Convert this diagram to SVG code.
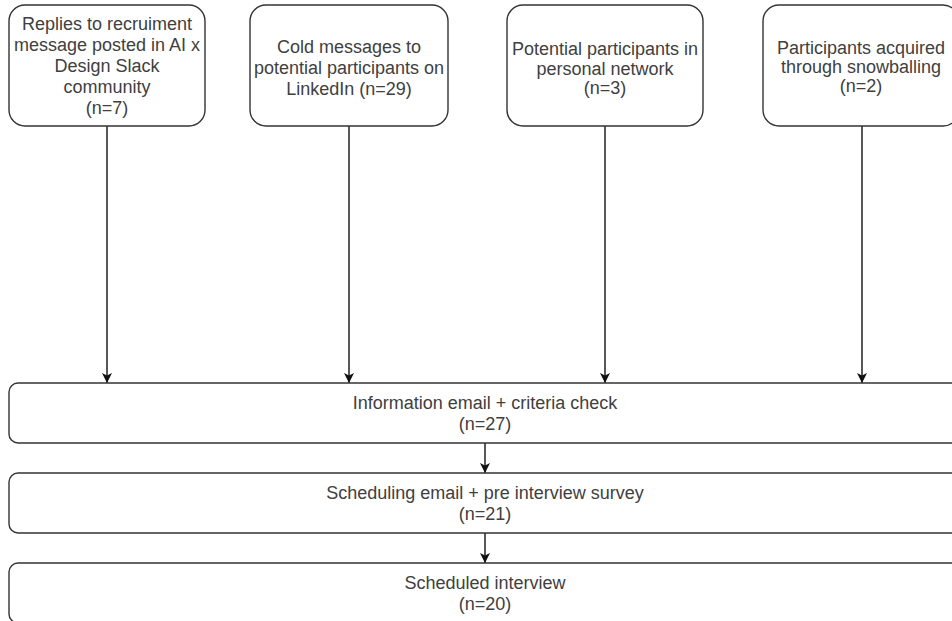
<svg xmlns="http://www.w3.org/2000/svg" width="952" height="621" viewBox="0 0 952 621">
<defs>
<marker id="ah" viewBox="0 0 10 10" refX="10" refY="5" markerWidth="10" markerHeight="10" markerUnits="userSpaceOnUse" orient="auto">
<path d="M0,0 L10,5 L0,10 L2.5,5 Z" fill="#111"/>
</marker>
<style>
.box{fill:#fff;stroke:#333;stroke-width:1.4}
.t{font-family:"Liberation Sans",Arial,sans-serif;font-size:18px;fill:#404040;text-anchor:middle}
.c{stroke:#111;stroke-width:1.4;fill:none}
</style>
</defs>
<rect width="952" height="621" fill="#fff"/>
<g id="connectors">
<path class="c" d="M107,126 V383" marker-end="url(#ah)"/>
<path class="c" d="M349,126 V383" marker-end="url(#ah)"/>
<path class="c" d="M605,126 V383" marker-end="url(#ah)"/>
<path class="c" d="M862,126 V383" marker-end="url(#ah)"/>
<path class="c" d="M485,443 V473" marker-end="url(#ah)"/>
<path class="c" d="M485,533 V563" marker-end="url(#ah)"/>
</g>
<g id="n1">
<rect class="box" x="9" y="5" width="196" height="121" rx="16"/>
<text class="t"><tspan x="107" y="30">Replies to recruiment</tspan><tspan x="107" y="51">message posted in AI x</tspan><tspan x="107" y="72">Design Slack</tspan><tspan x="107" y="93">community</tspan><tspan x="107" y="114">(n=7)</tspan></text>
</g>
<g id="n2">
<rect class="box" x="250" y="5" width="198" height="121" rx="16"/>
<text class="t"><tspan x="349" y="53">Cold messages to</tspan><tspan x="349" y="74">potential participants on</tspan><tspan x="349" y="95">LinkedIn (n=29)</tspan></text>
</g>
<g id="n3">
<rect class="box" x="507" y="5" width="196" height="121" rx="16"/>
<text class="t"><tspan x="605" y="55">Potential participants in</tspan><tspan x="605" y="75">personal network</tspan><tspan x="605" y="94">(n=3)</tspan></text>
</g>
<g id="n4">
<rect class="box" x="763" y="5" width="196" height="121" rx="16"/>
<text class="t"><tspan x="861" y="54">Participants acquired</tspan><tspan x="861" y="73">through snowballing</tspan><tspan x="861" y="92">(n=2)</tspan></text>
</g>
<g id="n5">
<rect class="box" x="9" y="383" width="952" height="60" rx="9"/>
<text class="t"><tspan x="485" y="409">Information email + criteria check</tspan><tspan x="485" y="430">(n=27)</tspan></text>
</g>
<g id="n6">
<rect class="box" x="9" y="473" width="952" height="60" rx="9"/>
<text class="t"><tspan x="485" y="499">Scheduling email + pre interview survey</tspan><tspan x="485" y="520">(n=21)</tspan></text>
</g>
<g id="n7">
<rect class="box" x="9" y="563" width="952" height="60" rx="9"/>
<text class="t"><tspan x="485" y="589">Scheduled interview</tspan><tspan x="485" y="610">(n=20)</tspan></text>
</g>
</svg>
